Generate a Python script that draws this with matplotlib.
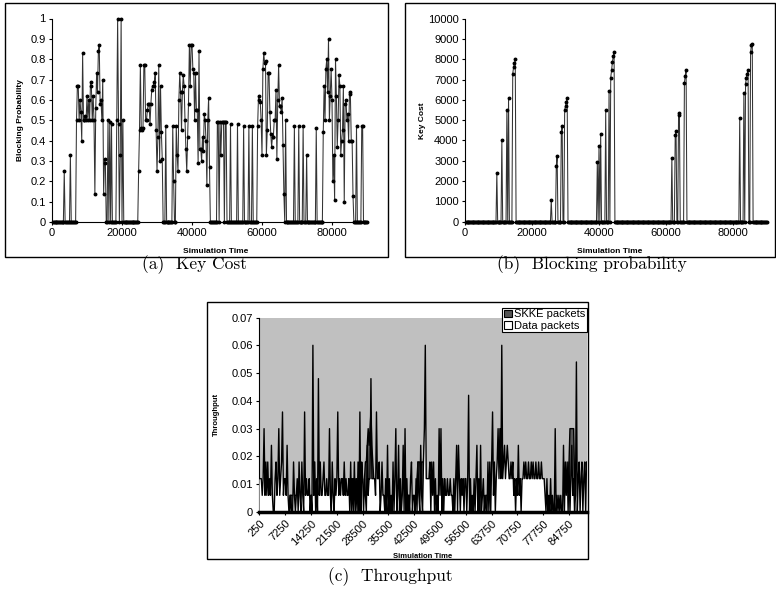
import matplotlib
matplotlib.use('Agg')
from matplotlib import pyplot as plt
from matplotlib.patches import Rectangle, Patch
import numpy as np

# simulation time grid shared by the panels
sim_t = np.arange(250, 90001, 250)

# (a) blocking probability: the non-zero samples (every other sample is 0)
blk_t = [3500, 5250,
         7000, 7250, 7500, 7750, 8000, 8250, 8500, 8750, 9000, 9250, 9500, 9750,
         10000, 10250, 10500, 10750, 11000, 11250, 11500, 11750, 12000, 12250,
         12500, 12750, 13000, 13250, 13500, 13750, 14000, 14250, 14500, 14750,
         15000, 15250, 16000, 16500, 17000, 18500, 18750, 19000, 19500, 19750,
         20250,
         24750, 25000, 25250, 25500, 25750, 26000, 26250, 26500, 26750, 27000,
         27250, 27500, 27750, 28000, 28250, 28500, 28750, 29000, 29250, 29500,
         29750, 30000, 30250, 30500, 30750, 31000, 31250, 31500, 32500, 34500,
         34750, 35500, 35750, 36000, 36250, 36500, 36750, 37000, 37250, 37500,
         37750, 38000, 38250, 38500, 38750, 39000, 39250, 39500, 39750, 40000,
         40250, 40500, 40750, 41000, 41250, 41500, 41750, 42000, 42250, 42500,
         42750, 43000, 43250, 43500, 43750, 44000, 44250, 44500, 44750, 45000,
         47250, 47500, 48000, 48250, 48500, 48750, 49000, 49500, 49750, 51000,
         53000, 54750, 56250, 57250, 58750,
         59000, 59250, 59500, 59750, 60000, 60250, 60500, 60750, 61000, 61250,
         61500, 61750, 62000, 62250, 62500, 62750, 63000, 63250, 63500, 63750,
         64000, 64250, 64500, 64750, 65000, 65250, 65500, 65750, 66000, 66250,
         66750, 69250, 70500, 71750, 72750, 75500,
         77500, 77750, 78000, 78250, 78500, 78750, 79000, 79250, 79500, 79750,
         80000, 80250, 80500, 80750, 81000, 81250, 81500, 81750, 82000, 82250,
         82500, 82750, 83000, 83250, 83500, 83750, 84000, 84250, 84500, 84750,
         85000, 85250, 85500, 85750, 86000, 87000, 88500, 88750]
blk_p = [0.25, 0.33,
         0.5, 0.67, 0.67, 0.5, 0.6, 0.54, 0.4, 0.83, 0.5, 0.5, 0.52, 0.5,
         0.62, 0.5, 0.6, 0.5, 0.69, 0.67, 0.5, 0.62, 0.5, 0.14,
         0.56, 0.73, 0.64, 0.84, 0.87, 0.58, 0.6, 0.5, 0.7, 0.14,
         0.31, 0.29, 0.5, 0.49, 0.48, 0.5, 1.0, 0.48, 0.33, 1.0,
         0.5,
         0.25, 0.45, 0.77, 0.46, 0.45, 0.46, 0.77, 0.77, 0.5, 0.5,
         0.55, 0.58, 0.58, 0.48, 0.58, 0.65, 0.67, 0.67, 0.69, 0.73,
         0.45, 0.25, 0.42, 0.77, 0.3, 0.67, 0.44, 0.31, 0.47, 0.47,
         0.2, 0.47, 0.33, 0.25, 0.6, 0.73, 0.64, 0.45, 0.64, 0.72,
         0.67, 0.5, 0.36, 0.25, 0.42, 0.58, 0.87, 0.67, 0.87, 0.87,
         0.75, 0.73, 0.5, 0.73, 0.55, 0.55, 0.29, 0.84, 0.36, 0.36,
         0.3, 0.42, 0.35, 0.53, 0.5, 0.4, 0.18, 0.5, 0.61, 0.27,
         0.49, 0.49, 0.49, 0.33, 0.49, 0.49, 0.49, 0.49, 0.49, 0.48,
         0.48, 0.47, 0.47, 0.47, 0.47,
         0.62, 0.6, 0.59, 0.5, 0.33, 0.75, 0.83, 0.78, 0.79, 0.33,
         0.45, 0.73, 0.73, 0.54, 0.43, 0.37, 0.42, 0.42, 0.5, 0.5,
         0.65, 0.31, 0.6, 0.77, 0.57, 0.57, 0.54, 0.61, 0.38, 0.14,
         0.5, 0.47, 0.47, 0.47, 0.33, 0.46,
         0.44, 0.67, 0.5, 0.75, 0.8, 0.64, 0.9, 0.5, 0.62, 0.75,
         0.6, 0.2, 0.33, 0.11, 0.8, 0.62, 0.37, 0.5, 0.72, 0.67,
         0.33, 0.4, 0.45, 0.67, 0.1, 0.58, 0.6, 0.5, 0.53, 0.4,
         0.64, 0.63, 0.4, 0.4, 0.13, 0.47, 0.47, 0.47]

# (b) key cost: the non-zero samples
key_t = [9500, 11000, 12500, 13000, 14250, 14500, 14750, 15000,
         25750, 27250, 27500, 28750, 29000, 29750, 30000, 30250, 30500,
         39500, 40000, 40500, 42000, 43000, 43500, 43750, 44000, 44250, 44500,
         61750, 62750, 63000, 63750, 64000, 65500, 65750, 66000,
         82000, 83250, 83750, 84000, 84250, 84500, 85250, 85500, 85750]
key_c = [2400, 4000, 5500, 6100, 7300, 7600, 7800, 8000,
         1050, 2750, 3250, 4400, 4700, 5500, 5700, 5900, 6100,
         2950, 3750, 4300, 5500, 6450, 7100, 7450, 7850, 8150, 8350,
         3150, 4250, 4450, 5250, 5350, 6850, 7200, 7450,
         5100, 6350, 6800, 7100, 7300, 7450, 8350, 8700, 8750]

# (c) throughput per sample, counted in units of 0.006
pkt_unit = 0.006
data_pk = [2, 2, 2, 1, 2, 5, 1, 3, 1, 3, 1, 2, 1, 4, 1, 0, 0, 2, 3, 1, 2, 5, 1, 2, 3, 6, 1, 2,
           2, 1, 4, 1, 0, 0, 1, 0, 0, 3, 1, 0, 1, 2, 0, 3, 1, 0, 3, 1, 0, 6, 1, 2, 1, 1, 2, 0,
           1, 0, 10, 1, 3, 0, 2, 0, 8, 1, 3, 1, 1, 2, 3, 1, 1, 2, 1, 1, 5, 1, 0, 3, 1, 0, 2, 1,
           2, 6, 1, 2, 1, 2, 2, 1, 3, 1, 2, 1, 1, 2, 0, 3, 0, 2, 0, 3, 0, 2, 0, 3, 0, 6, 0, 3,
           2, 0, 2, 1, 0, 4, 1, 2, 2, 8, 2, 2, 2, 2, 1, 6, 2, 2, 3, 0, 1, 3, 1, 1, 0, 2, 0, 4,
           0, 2, 0, 1, 0, 3, 0, 2, 5, 0, 1, 4, 0, 2, 0, 1, 4, 0, 5, 0, 2, 0, 1, 0, 2, 3, 0, 1,
           1, 0, 2, 0, 3, 1, 0, 4, 1, 0, 3, 5, 10, 2, 2, 2, 2, 3, 0, 3, 1, 3, 0, 2, 0, 1, 0, 5,
           1, 5, 0, 2, 0, 2, 1, 1, 2, 1, 1, 2, 1, 1, 0, 2, 0, 2, 4, 0, 4, 2, 0, 2, 1, 2, 0, 2,
           2, 0, 2, 7, 0, 2, 0, 1, 0, 2, 0, 2, 4, 0, 2, 0, 4, 0, 1, 2, 0, 1, 0, 0, 3, 0, 3, 0,
           3, 6, 1, 3, 0, 2, 3, 5, 2, 5, 2, 10, 2, 3, 4, 2, 3, 4, 3, 2, 2, 3, 2, 3, 1, 2, 0, 2,
           1, 4, 1, 2, 0, 2, 2, 3, 2, 3, 2, 2, 3, 2, 2, 3, 2, 3, 2, 2, 3, 2, 2, 3, 2, 2, 3, 2,
           2, 2, 1, 0, 2, 0, 1, 0, 2, 0, 1, 0, 0, 5, 0, 1, 0, 1, 0, 1, 0, 0, 4, 0, 3, 1, 3, 0,
           3, 0, 2, 4, 1, 2, 0, 1, 9, 0, 2, 3, 0, 2, 3, 0, 2, 3, 0, 3]
skke_pk = [0, 0, 0, 0, 0, 0, 0, 0, 0, 0, 0, 0, 0, 0, 0, 0, 0, 0, 0, 0, 0, 0, 0, 0, 0, 0, 0, 0,
           0, 0, 0, 0, 0, 1, 1, 1, 1, 1, 1, 1, 1, 1, 1, 1, 1, 0, 0, 0, 0, 0, 0, 0, 0, 0, 0, 0,
           1, 1, 1, 1, 1, 0, 0, 0, 0, 0, 0, 0, 0, 0, 0, 0, 0, 0, 0, 0, 0, 0, 0, 0, 0, 0, 0, 0,
           0, 0, 0, 0, 0, 0, 0, 0, 0, 0, 0, 0, 0, 0, 1, 2, 2, 1, 2, 2, 1, 2, 1, 1, 1, 1, 0, 0,
           1, 1, 2, 3, 3, 4, 5, 4, 5, 6, 4, 3, 2, 0, 0, 0, 0, 0, 0, 0, 0, 0, 0, 0, 0, 0, 0, 0,
           0, 0, 0, 0, 0, 0, 0, 0, 0, 0, 0, 0, 0, 0, 0, 0, 0, 0, 0, 0, 1, 1, 1, 1, 0, 0, 0, 0,
           0, 0, 1, 2, 3, 3, 3, 2, 3, 3, 3, 4, 3, 0, 0, 0, 0, 0, 0, 0, 0, 0, 0, 0, 0, 0, 0, 0,
           0, 0, 0, 0, 0, 0, 0, 0, 0, 0, 0, 0, 0, 0, 0, 0, 0, 0, 0, 0, 0, 0, 0, 0, 0, 0, 0, 0,
           0, 0, 0, 0, 0, 0, 0, 0, 0, 0, 0, 0, 0, 0, 0, 0, 0, 0, 0, 0, 0, 0, 1, 1, 1, 1, 1, 1,
           1, 1, 0, 0, 0, 0, 0, 0, 0, 0, 0, 0, 0, 0, 0, 0, 0, 0, 0, 0, 0, 0, 0, 0, 0, 0, 0, 0,
           0, 0, 0, 0, 0, 0, 0, 0, 0, 0, 0, 0, 0, 0, 0, 0, 0, 0, 0, 0, 0, 0, 0, 0, 0, 0, 0, 0,
           0, 0, 0, 0, 0, 0, 0, 0, 0, 0, 0, 0, 0, 0, 0, 0, 0, 0, 0, 0, 0, 0, 0, 0, 1, 2, 2, 2,
           3, 5, 5, 5, 5, 5, 2, 1, 0, 0, 0, 0, 0, 0, 0, 0, 0, 0, 0, 0]
thr_labels = ['250', '7250', '14250', '21500', '28500', '35500', '42500',
              '49500', '56500', '63750', '70750', '77750', '84750']
thr_label_step = 28

W, H = 776, 591
SANS = 'Liberation Sans'


def fx(px):
    return px / W


def fy(py):
    return 1 - py / H


def on_grid(times, vals):
    out = np.zeros(len(sim_t))
    out[np.searchsorted(sim_t, times)] = vals
    return out


def frame(fig, x0, y0, x1, y1):
    fig.add_artist(Rectangle((fx(x0), fy(y1)), fx(x1 - x0), (y1 - y0) / H,
                             transform=fig.transFigure, fill=False,
                             ec='black', lw=1.0))


def style_axes(ax):
    for side in ['top', 'right']:
        ax.spines[side].set_visible(False)
    for side in ['left', 'bottom']:
        ax.spines[side].set_linewidth(0.8)
    ax.tick_params(direction='out', length=2.5, width=0.8, labelsize=8, pad=2)
    for lab in ax.get_xticklabels() + ax.get_yticklabels():
        lab.set_fontfamily(SANS)


fig = plt.figure(figsize=(W / 100, H / 100), dpi=100)

# ---- (a)
frame(fig, 5, 3, 388, 257)
ax1 = fig.add_axes([fx(52), fy(222), (367 - 52) / W, (222 - 18.5) / H])
ax1.plot(sim_t, on_grid(blk_t, blk_p), color='#333333', lw=0.75,
         marker='o', ms=1.8, mfc='black', mec='black', clip_on=False)
ax1.set_xlim(0, 90000)
ax1.set_ylim(0, 1)
ax1.set_xticks(np.arange(0, 80001, 20000))
ax1.set_xticklabels([str(v) for v in range(0, 80001, 20000)])
ax1.set_yticks(np.arange(0, 1.01, 0.1))
ax1.set_yticklabels(['0'] + ['%.1f' % v for v in np.arange(0.1, 0.95, 0.1)] + ['1'])
style_axes(ax1)
ax1.set_xlabel('Simulation Time', fontsize=6, fontweight='bold', family=SANS)
ax1.set_ylabel('Blocking Probability', fontsize=6, fontweight='bold', family=SANS)
ax1.xaxis.set_label_coords(0.52, -0.13)
ax1.yaxis.set_label_coords(-0.09, 0.5)
fig.text(fx(195), fy(265), '(a)  Key Cost', family='cmr10', fontsize=12.5,
         ha='center', va='center')

# ---- (b)
frame(fig, 405, 3, 775, 257)
ax2 = fig.add_axes([fx(465), fy(221.7), (766.5 - 465) / W, (221.7 - 18.7) / H])
ax2.plot(sim_t, on_grid(key_t, key_c), color='#333333', lw=0.75,
         marker='o', ms=1.8, mfc='black', mec='black', clip_on=False)
ax2.set_xlim(0, 90000)
ax2.set_ylim(0, 10000)
ax2.set_xticks(np.arange(0, 80001, 20000))
ax2.set_xticklabels([str(v) for v in range(0, 80001, 20000)])
ax2.set_yticks(np.arange(0, 10001, 1000))
ax2.set_yticklabels([str(v) for v in range(0, 10001, 1000)])
style_axes(ax2)
ax2.set_xlabel('Simulation Time', fontsize=6, fontweight='bold', family=SANS)
ax2.set_ylabel('Key Cost', fontsize=6, fontweight='bold', family=SANS)
ax2.xaxis.set_label_coords(0.48, -0.13)
ax2.yaxis.set_label_coords(-0.13, 0.5)
fig.text(fx(592), fy(265), '(b)  Blocking probability', family='cmr10',
         fontsize=12.5, ha='center', va='center')

# ---- (c)
frame(fig, 207, 302, 588, 559)
ax3 = fig.add_axes([fx(259), fy(512), (587 - 259) / W, (512 - 317.5) / H],
                   facecolor='#c0c0c0')
xc = np.arange(len(data_pk))
skke = np.array(skke_pk) * pkt_unit
data = np.array(data_pk) * pkt_unit
ax3.fill_between(xc, 0, skke, facecolor='#555555', edgecolor='none', zorder=2)
ax3.plot(xc, skke, color='black', lw=1.0, zorder=3)
ax3.fill_between(xc, 0, data, facecolor='white', edgecolor='none', zorder=4)
ax3.plot(xc, data, color='black', lw=1.0, zorder=5)
ax3.set_xlim(-0.5, len(data_pk) - 0.5)
ax3.set_ylim(0, 0.07)
ax3.set_yticks(np.arange(0, 0.0701, 0.01))
ax3.set_yticklabels(['0'] + ['%.2f' % v for v in np.arange(0.01, 0.0701, 0.01)])
ax3.set_xticks(np.arange(len(thr_labels)) * thr_label_step)
ax3.set_xticklabels(thr_labels, rotation=45, ha='right', rotation_mode='anchor')
style_axes(ax3)
ax3.spines['bottom'].set_linewidth(2.5)
ax3.spines['bottom'].set_zorder(6)
ax3.set_xlabel('Simulation Time', fontsize=5.5, fontweight='bold', family=SANS)
ax3.set_ylabel('Throughput', fontsize=5.5, fontweight='bold', family=SANS)
ax3.xaxis.set_label_coords(0.5, -0.21)
ax3.yaxis.set_label_coords(-0.12, 0.5)
handles = [Patch(facecolor='#555555', edgecolor='black', lw=0.8),
           Patch(facecolor='white', edgecolor='black', lw=0.8)]
leg = ax3.legend(handles, ['SKKE packets', 'Data packets'], loc='upper right',
                 bbox_to_anchor=(1.0, 1.05), prop={'family': SANS, 'size': 8},
                 fancybox=False, framealpha=1, edgecolor='black',
                 handlelength=0.7, handleheight=0.7, handletextpad=0.2,
                 borderpad=0.15, labelspacing=0.1, borderaxespad=0)
leg.get_frame().set_linewidth(0.8)
leg.set_zorder(10)
fig.text(fx(390), fy(577), '(c)  Throughput', family='cmr10', fontsize=12.5,
         ha='center', va='center')

fig.savefig('out.png', dpi=100, facecolor='white')
